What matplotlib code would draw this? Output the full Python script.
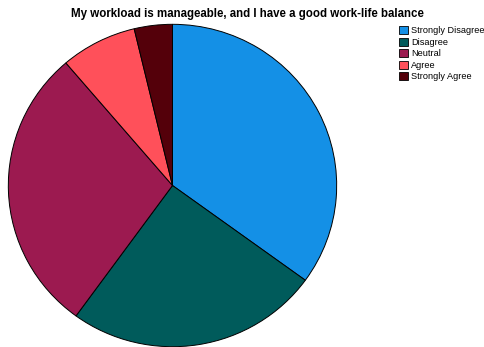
import matplotlib.pyplot as plt
import numpy as np

categories = ['Strongly Disagree', 'Disagree', 'Neutral', 'Agree', 'Strongly Agree']
counts = [28, 20, 23, 6, 3]
colors = ['#1490e6', '#005b5b', '#9c1a50', '#ff505a', '#54000a']

plt.rcParams['font.family'] = ['Liberation Sans', 'DejaVu Sans']

W, H = 485, 347
fig = plt.figure(figsize=(W / 100, H / 100), dpi=100)

# pie area, slightly wider than tall
cx, cy, rx, ry = 172.5, 185.5, 165, 162
ax = fig.add_axes([(cx - rx) / W, (H - cy - ry) / H, 2 * rx / W, 2 * ry / H])
wedges, _ = ax.pie(counts, colors=colors, startangle=90, counterclock=False,
                   radius=1, wedgeprops=dict(edgecolor='black', linewidth=0.7))
ax.set_xlim(-1.005, 1.005)
ax.set_ylim(-1.005, 1.005)
ax.set_aspect('auto')
ax.axis('off')

fig.text(247 / W, 1 - 13.5 / H, 'My workload is manageable, and I have a good work-life balance',
         ha='center', va='center', fontsize=8.3, fontweight='bold')

leg = fig.legend(wedges, categories, loc='upper left',
                 bbox_to_anchor=(399 / W, 1 - 26 / H), frameon=False,
                 fontsize=6.6, handlelength=1.0, handleheight=1.0,
                 handletextpad=0.3, labelspacing=0.25, borderpad=0,
                 borderaxespad=0)
for h in leg.legend_handles:
    h.set_edgecolor('black')
    h.set_linewidth(0.6)

fig.savefig('out.png', dpi=100)
